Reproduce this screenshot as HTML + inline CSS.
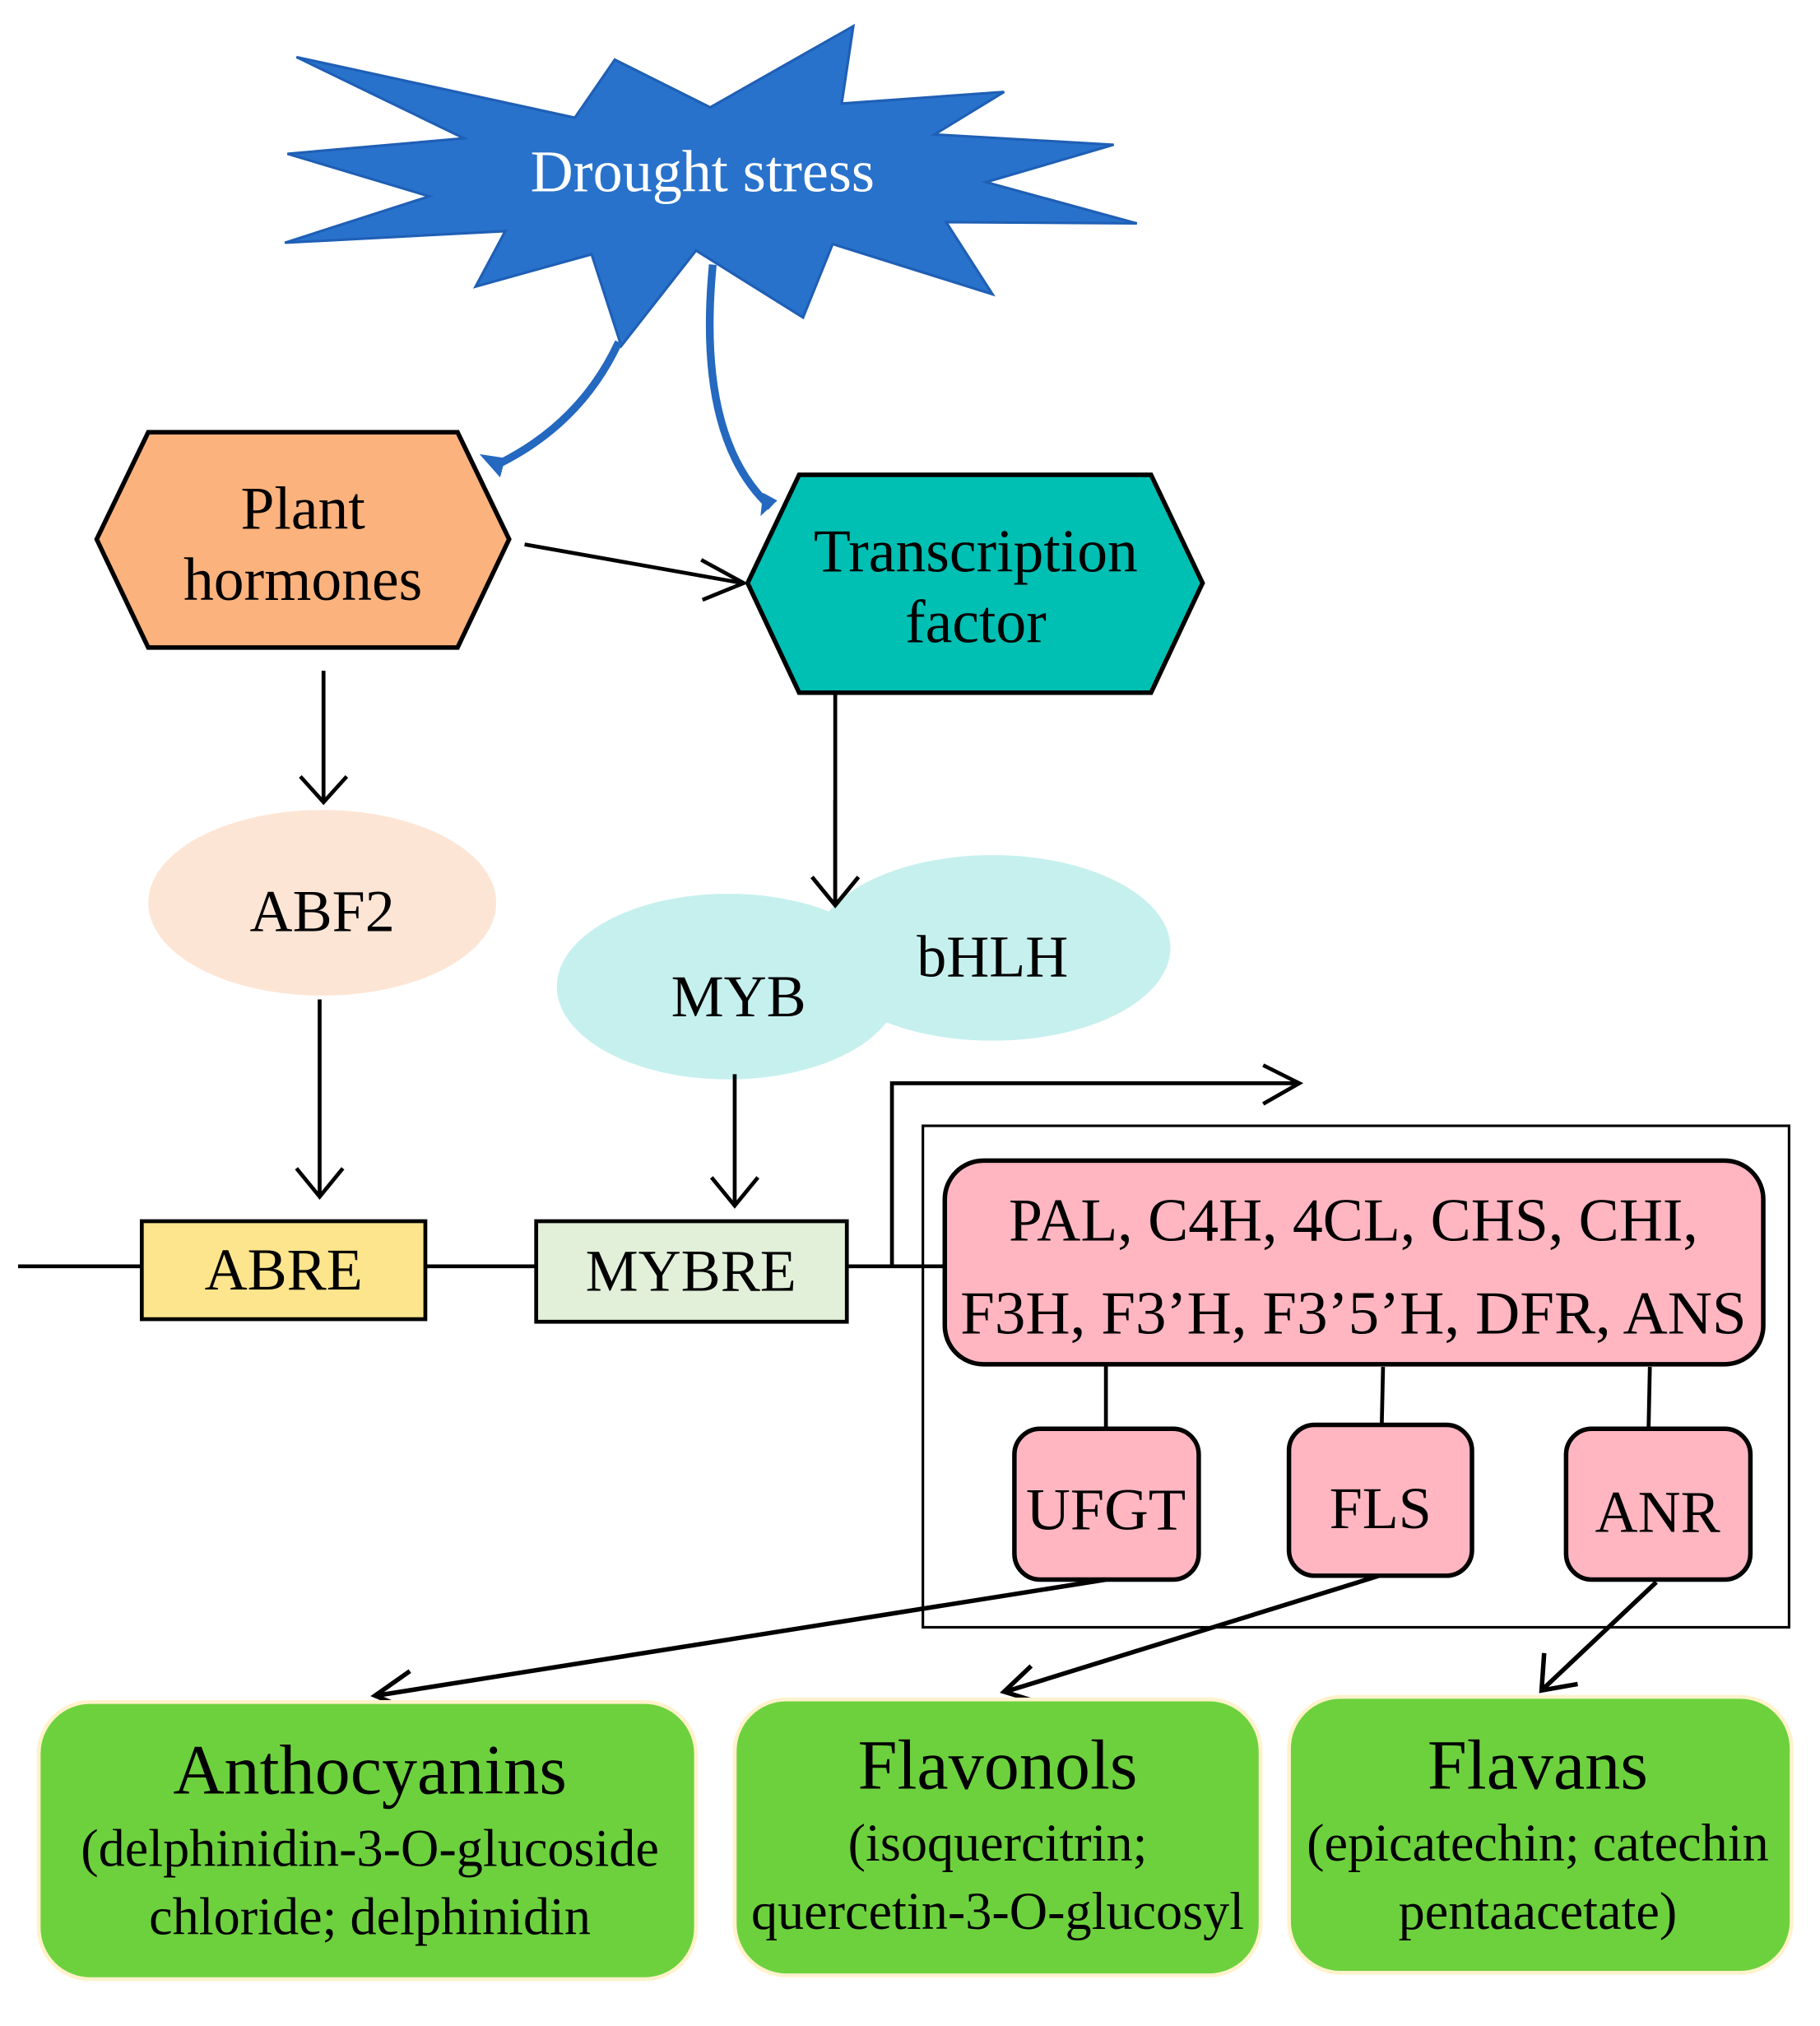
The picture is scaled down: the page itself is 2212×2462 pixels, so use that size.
<!DOCTYPE html>
<html><head><meta charset="utf-8"><style>html,body{margin:0;padding:0;background:#fff}svg{display:block}</style></head><body>
<svg width="2212" height="2462" viewBox="0 0 1412 1571" xmlns="http://www.w3.org/2000/svg" font-family="'Liberation Serif',serif">
<polygon points="230,44 446,91 477,46 551,83 662,20 653,80 779,71 725,104 864,112 765,141 882,173 734,172 770,228 646,189 623,246 540,194 482,268 459,197 369,222 392,179 221,188 333,152 223,119 360,107" fill="#2872CC" stroke="#1F5FB5" stroke-width="2"/>
<text x="545" y="148" font-size="46" fill="#fff" text-anchor="middle">Drought stress</text>
<path d="M480,265 Q450,330 382,362" fill="none" stroke="#2468C0" stroke-width="6"/>
<path d="M372,352 L388,370 L392,355 Z" fill="#2468C0"/>
<path d="M553,205 Q540,340 598,393" fill="none" stroke="#2468C0" stroke-width="6"/>
<path d="M590,400 L603,388 L592,382 Z" fill="#2468C0"/>
<polygon points="75,418 115,335 355,335 395,418 355,502 115,502" fill="#FBB27D" stroke="#000" stroke-width="3.5"/>
<text x="235" y="410" font-size="47" text-anchor="middle">Plant</text>
<text x="235" y="465" font-size="47" text-anchor="middle">hormones</text>
<polygon points="580,452 620,368 893,368 933,452 893,537 620,537" fill="#00BFB3" stroke="#000" stroke-width="3.5"/>
<text x="757" y="443" font-size="47" text-anchor="middle">Transcription</text>
<text x="757" y="498" font-size="47" text-anchor="middle">factor</text>
<g stroke="#000" stroke-width="3" fill="none">
<line x1="407" y1="422" x2="576" y2="452"/><path d="M544,434 L577,452 L545,465"/>
<line x1="251" y1="520" x2="251" y2="622"/><path d="M233,602 L251,622 L269,602"/>
<line x1="648" y1="538" x2="648" y2="702"/><path d="M630,680 L648,702 L666,680"/>
</g>
<ellipse cx="250" cy="700" rx="135" ry="72" fill="#FDE5D5"/>
<text x="250" y="722" font-size="46" text-anchor="middle">ABF2</text>
<ellipse cx="770" cy="735" rx="138" ry="72" fill="#C6F0EE"/>
<ellipse cx="565" cy="765" rx="133" ry="72" fill="#C6F0EE"/>
<g stroke="#000" stroke-width="3" fill="none">
<line x1="648" y1="620" x2="648" y2="702"/><path d="M630,680 L648,702 L666,680"/>
</g>
<text x="770" y="757" font-size="46" text-anchor="middle">bHLH</text>
<text x="573" y="788" font-size="46" text-anchor="middle">MYB</text>
<g stroke="#000" stroke-width="3" fill="none">
<line x1="248" y1="775" x2="248" y2="928"/><path d="M230,906 L248,928 L266,906"/>
<line x1="570" y1="833" x2="570" y2="935"/><path d="M552,913 L570,935 L588,913"/>
<line x1="14" y1="982" x2="735" y2="982"/>
<path d="M692,982 L692,840 L1008,840"/><path d="M980,826 L1008,840 L980,856"/>
</g>
<rect x="110" y="947" width="220" height="76" fill="#FDE58D" stroke="#000" stroke-width="3"/>
<text x="220" y="1000" font-size="46" text-anchor="middle">ABRE</text>
<rect x="416" y="947" width="241" height="78" fill="#E2F0D9" stroke="#000" stroke-width="3"/>
<text x="536" y="1001" font-size="46" text-anchor="middle">MYBRE</text>
<rect x="716" y="873" width="672" height="389" fill="none" stroke="#000" stroke-width="2"/>
<rect x="733" y="900" width="635" height="158" rx="30" fill="#FFB6C1" stroke="#000" stroke-width="3.5"/>
<text x="1050" y="962" font-size="47" text-anchor="middle">PAL, C4H, 4CL, CHS, CHI,</text>
<text x="1050" y="1034" font-size="47" text-anchor="middle" textLength="610" lengthAdjust="spacingAndGlyphs">F3H, F3’H, F3’5’H, DFR, ANS</text>
<g stroke="#000" stroke-width="3">
<line x1="858" y1="1058" x2="858" y2="1108"/><line x1="1073" y1="1060" x2="1072" y2="1105"/><line x1="1280" y1="1060" x2="1279" y2="1108"/>
</g>
<rect x="787" y="1108" width="143" height="117" rx="20" fill="#FFB6C1" stroke="#000" stroke-width="3.5"/>
<text x="858" y="1186" font-size="46" text-anchor="middle" textLength="124" lengthAdjust="spacingAndGlyphs">UFGT</text>
<rect x="1000" y="1105" width="142" height="117" rx="20" fill="#FFB6C1" stroke="#000" stroke-width="3.5"/>
<text x="1071" y="1185" font-size="46" text-anchor="middle">FLS</text>
<rect x="1215" y="1108" width="143" height="117" rx="20" fill="#FFB6C1" stroke="#000" stroke-width="3.5"/>
<text x="1286" y="1188" font-size="46" text-anchor="middle">ANR</text>
<g stroke="#000" stroke-width="3.5" fill="none">
<line x1="858" y1="1225" x2="292" y2="1315"/><path d="M318,1296 L291,1315 L322,1328"/>
<line x1="1070" y1="1222" x2="780" y2="1312"/><path d="M800,1292 L779,1312 L808,1321"/>
<line x1="1285" y1="1227" x2="1197" y2="1310"/><path d="M1198,1282 L1196,1311 L1224,1306"/>
</g>
<rect x="30" y="1320" width="510" height="215" rx="40" fill="#6DD13E" stroke="#FFF2CC" stroke-width="3"/>
<text x="287" y="1391" font-size="55" text-anchor="middle">Anthocyanins</text>
<text x="287" y="1447" font-size="41" text-anchor="middle">(delphinidin-3-O-glucoside</text>
<text x="287" y="1500" font-size="41" text-anchor="middle">chloride; delphinidin</text>
<rect x="570" y="1318" width="408" height="214" rx="40" fill="#6DD13E" stroke="#FFF2CC" stroke-width="3"/>
<text x="774" y="1387" font-size="55" text-anchor="middle">Flavonols</text>
<text x="774" y="1443" font-size="41" text-anchor="middle">(isoquercitrin;</text>
<text x="774" y="1496" font-size="41" text-anchor="middle">quercetin-3-O-glucosyl</text>
<rect x="1000" y="1316" width="390" height="214" rx="40" fill="#6DD13E" stroke="#FFF2CC" stroke-width="3"/>
<text x="1193" y="1387" font-size="55" text-anchor="middle">Flavans</text>
<text x="1193" y="1443" font-size="41" text-anchor="middle">(epicatechin; catechin</text>
<text x="1193" y="1496" font-size="41" text-anchor="middle">pentaacetate)</text>
</svg>
</body></html>
